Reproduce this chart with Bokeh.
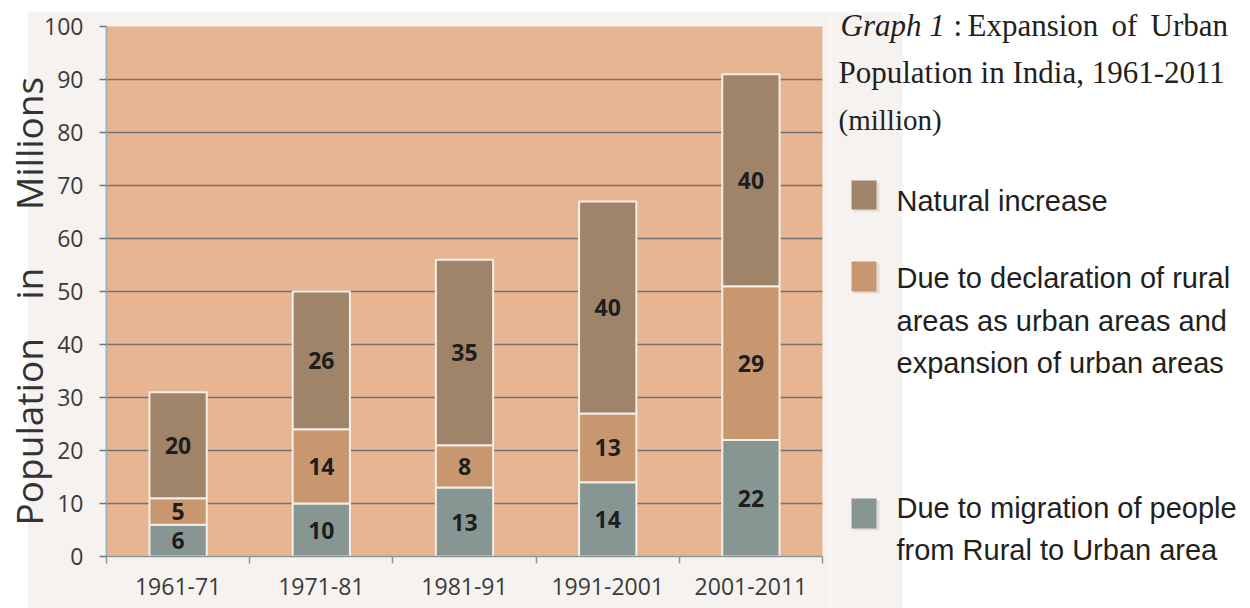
from bokeh.plotting import figure
from bokeh.layouts import row
from bokeh.models import ColumnDataSource, Range1d, FixedTicker
from bokeh.core.properties import value
from bokeh.embed import file_html
from bokeh.resources import INLINE

# ---- data ----
periods = ["1961-71", "1971-81", "1981-91", "1991-2001", "2001-2011"]
migration = [6, 10, 13, 14, 22]
declaration = [5, 14, 8, 13, 29]
natural = [20, 26, 35, 40, 40]
y_ticks = [0, 10, 20, 30, 40, 50, 60, 70, 80, 90, 100]
series_names = ["migration", "declaration", "natural"]
y_title_words = ["Population", "in", "Millions"]
legend_labels = {
    "natural": ["Natural increase"],
    "declaration": ["Due to declaration of rural", "areas as urban areas and",
                    "expansion of urban areas"],
    "migration": ["Due to migration of people", "from Rural to Urban area"],
}
title_italic = "Graph 1"
title_first_words = [":", "Expansion", "of", "Urban"]
title_lines = ["Population in India, 1961-2011", "(million)"]

# ---- styles ----
COL = {"migration": "#879693", "declaration": "#C9976F", "natural": "#A0846A"}
PLOT_BG = "#E8B593"
CHART_BG = "#F6F2EF"
GRID = "#6E7676"
TXT = "#231F20"

H = 608
CW = 830                  # chart figure width
SW = 1250 - CW            # side panel width

idx = list(range(len(periods)))
src = ColumnDataSource(dict(x=idx, migration=migration, declaration=declaration, natural=natural))

# ---- chart ----
p = figure(width=CW, height=H, output_backend="svg", toolbar_location=None,
           x_range=Range1d(-0.5, len(periods) - 0.5), y_range=Range1d(0, 100),
           min_border_left=104, min_border_right=8, min_border_top=26, min_border_bottom=52)
p.frame_align = False
p.background_fill_color = PLOT_BG
p.border_fill_alpha = 0
p.outline_line_color = None
p.styles = {"background": "linear-gradient(#ffffff, #ffffff) 0 0 / 100% 12px no-repeat, "
                          "linear-gradient(#ffffff, #ffffff) 0 0 / 28px 100% no-repeat, " + CHART_BG}

# bars
p.vbar_stack(series_names, x="x", width=0.4, source=src,
             fill_color=[COL[s] for s in series_names],
             line_color="#F4EEE8", line_width=2)

# bar labels
cum = [0] * len(periods)
lx, ly, lt = [], [], []
for s_name, vals in zip(series_names, [migration, declaration, natural]):
    for i, v in enumerate(vals):
        lx.append(i)
        ly.append(cum[i] + v / 2)
        lt.append(str(v))
        cum[i] += v
p.text(x=lx, y=ly, text=lt, text_font=value("Open Sans"), text_font_style="bold",
       text_font_size="23px", text_align="center", text_baseline="middle",
       text_color="#1E1E1E")

# axes
xa = p.xaxis[0]
xa.ticker = FixedTicker(ticks=idx, minor_ticks=[i - 0.5 for i in range(len(periods) + 1)])
xa.major_label_overrides = {i: lab for i, lab in enumerate(periods)}
xa.major_tick_line_color = None
xa.minor_tick_in = 0
xa.minor_tick_out = 7
xa.minor_tick_line_color = "#8C9898"
xa.minor_tick_line_width = 1.5
xa.axis_line_color = "#8C9898"
xa.axis_line_width = 1.5
xa.major_label_text_font = "Open Sans"
xa.major_label_text_font_size = "23px"
xa.major_label_text_color = "#3A3A3A"
xa.major_label_standoff = 14

ya = p.yaxis[0]
ya.ticker = FixedTicker(ticks=y_ticks)
ya.major_tick_in = 0
ya.major_tick_out = 7
ya.major_tick_line_color = "#6E7676"
ya.major_tick_line_width = 1.5
ya.minor_tick_line_color = None
ya.axis_line_color = "#9FB2B5"
ya.axis_line_width = 2
ya.major_label_text_font = "Open Sans"
ya.major_label_text_font_size = "23px"
ya.major_label_text_color = "#3A3A3A"
ya.major_label_standoff = 16
nb = "\u00a0"
ya.axis_label = (y_title_words[0] + nb * 4 + y_title_words[1] + nb * 6
                 + y_title_words[2] + nb * 2)
ya.axis_label_text_font = "Open Sans"
ya.axis_label_text_font_size = "37px"
ya.axis_label_text_font_style = "normal"
ya.axis_label_text_color = "#333333"
ya.axis_label_standoff = -13

p.xgrid.grid_line_color = None
p.ygrid.grid_line_color = GRID
p.ygrid.grid_line_width = 1.5
p.ygrid.ticker = FixedTicker(ticks=y_ticks)

# ---- side panel: title and legend (page pixel coordinates, y down) ----
X0 = CW
s = figure(width=SW, height=H, output_backend="svg", toolbar_location=None,
           x_range=Range1d(X0, 1250), y_range=Range1d(H, 0),
           x_axis_type=None, y_axis_type=None, min_border=0)
s.frame_align = False
s.outline_line_color = None
s.background_fill_color = "white"
s.border_fill_color = "white"
s.grid.visible = False
s.quad(left=[X0], right=[902], top=[12], bottom=[H], fill_color=CHART_BG, line_color=None)

TF = "31px"
s.text(x=[840], y=[25], text=[title_italic], text_font=value("Liberation Serif"),
       text_font_style="italic", text_font_size=TF, text_color=TXT,
       text_baseline="alphabetic")
s.text(x=[953, 967, 1111, 1150], y=[25] * 4, text=title_first_words,
       text_font=value("Liberation Serif"), text_font_size=TF, text_color=TXT,
       text_baseline="alphabetic")
s.text(x=[838], y=[72], text=[title_lines[0]], text_font=value("Liberation Serif"),
       text_font_size=TF, text_color=TXT, text_baseline="alphabetic")
s.text(x=[838], y=[119], text=[title_lines[1]], text_font=value("Liberation Serif"),
       text_font_size="29px", text_color=TXT, text_baseline="alphabetic")

legend_layout = [
    ("natural", (180, 209), [200]),
    ("declaration", (261, 291), [277, 320, 362]),
    ("migration", (498, 528), [507, 549]),
]
for key, (top, bot), baselines in legend_layout:
    s.quad(left=[853], right=[879], top=[top + 2], bottom=[bot + 2],
           fill_color="#E0DCD8", line_color=None)
    s.quad(left=[851], right=[876], top=[top], bottom=[bot],
           fill_color=COL[key], line_color=None)
    s.text(x=[896] * len(baselines), y=baselines, text=legend_labels[key],
           text_font=value("Liberation Sans"), text_font_size="29px",
           text_color=TXT, text_baseline="alphabetic")

layout = row(p, s)
open("out.html", "w").write(file_html(layout, INLINE))
